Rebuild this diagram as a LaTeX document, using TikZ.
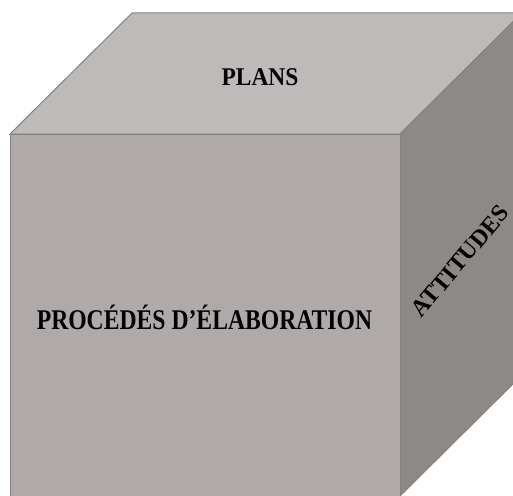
\documentclass[tikz,border=0pt]{standalone}
\usepackage{fontspec}
\setmainfont{Liberation Serif}
\definecolor{topc}{HTML}{BEBAB9}
\definecolor{frontc}{HTML}{AFAAA9}
\definecolor{sidec}{HTML}{8D8987}
\definecolor{edgec}{HTML}{858180}
\begin{document}
\begin{tikzpicture}[x=1pt,y=-1pt,
  face/.style={draw=edgec,line width=1pt,line join=miter},
  lbl/.style={font=\bfseries, text=black, inner sep=0pt}]
\useasboundingbox (0,0) rectangle (513,495);
\begin{scope}
\clip (0,0) rectangle (513,495);
\coordinate (A) at (10,134);
\coordinate (B) at (400,134);
\coordinate (C) at (400,496);
\coordinate (D) at (10,496);
\coordinate (E) at (132,13);
\coordinate (F) at (522,13);
\coordinate (G) at (522,375);
\filldraw[face,fill=topc] (A) -- (E) -- (F) -- (B) -- cycle;
\filldraw[face,fill=sidec] (B) -- (F) -- (G) -- (C) -- cycle;
\filldraw[face,fill=frontc] (A) -- (B) -- (C) -- (D) -- cycle;
\end{scope}
\node[lbl,font=\bfseries\fontsize{25.5}{28}\selectfont,xscale=0.92] (plans) at (260,77.5) {PLANS};
\node[lbl,font=\bfseries\fontsize{28.5}{30}\selectfont,xscale=0.83] (proc) at (204.5,317.5) {PROCÉDÉS D’ÉLABORATION};
\node[lbl,font=\bfseries\fontsize{24}{28}\selectfont,rotate=50] (att) at (460,261) {ATTITUDES};
\end{tikzpicture}
\end{document}
